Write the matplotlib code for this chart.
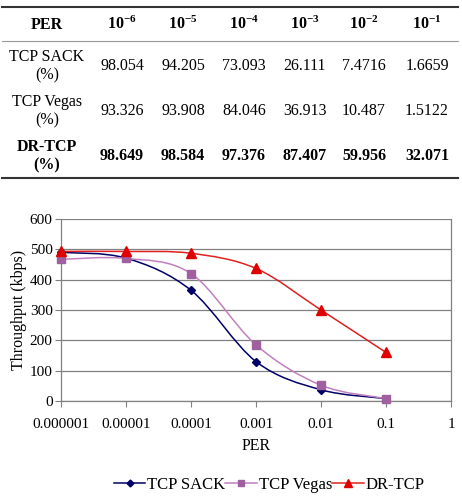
import numpy as np
import matplotlib
matplotlib.use("Agg")
import matplotlib.pyplot as plt
from matplotlib.path import Path
from matplotlib.patches import PathPatch
from matplotlib.lines import Line2D

plt.rcParams['font.family'] = ['Liberation Serif', 'DejaVu Serif']
plt.rcParams['mathtext.fontset'] = 'custom'
plt.rcParams['mathtext.rm'] = 'Liberation Serif'
plt.rcParams['mathtext.bf'] = 'Liberation Serif:bold'

# 数据
per = [1e-6, 1e-5, 1e-4, 1e-3, 1e-2, 1e-1]
per_labels = [r'$\mathbf{10^{-6}}$', r'$\mathbf{10^{-5}}$', r'$\mathbf{10^{-4}}$',
              r'$\mathbf{10^{-3}}$', r'$\mathbf{10^{-2}}$', r'$\mathbf{10^{-1}}$']
row_names = ['TCP SACK\n(%)', 'TCP Vegas\n(%)', 'DR-TCP\n(%)']
sack_pct = ['98.054', '94.205', '73.093', '26.111', '7.4716', '1.6659']
vegas_pct = ['93.326', '93.908', '84.046', '36.913', '10.487', '1.5122']
dr_pct = ['98.649', '98.584', '97.376', '87.407', '59.956', '32.071']

# 吞吐量 (kbps)
sack_thr = [490, 471, 365, 130, 37, 8]
vegas_thr = [467, 470, 420, 185, 52, 8]
dr_thr = [493, 493, 487, 437, 300, 160]

W, H = 462, 500
fig = plt.figure(figsize=(W / 100, H / 100), dpi=100)


def fx(x):
    return x / W


def fy(y):
    return 1 - y / H


# 表格
fs_tab = 11.5
col_x = [122, 183, 244, 305, 364, 427]
fig.add_artist(Line2D([fx(2), fx(458)], [fy(7), fy(7)], color='#333333', lw=1.5))
fig.add_artist(Line2D([fx(2), fx(458)], [fy(41), fy(41)], color='#999999', lw=0.8))
fig.add_artist(Line2D([fx(2), fx(458)], [fy(178), fy(178)], color='#333333', lw=1.5))

fig.text(fx(47), fy(25), 'PER', ha='center', va='center', fontsize=fs_tab, fontweight='bold')
for cx, lab in zip(col_x, per_labels):
    fig.text(fx(cx), fy(24), lab, ha='center', va='center', fontsize=fs_tab)

row_y = [66, 111, 156]
rows = [sack_pct, vegas_pct, dr_pct]
for i, (ry, name, vals) in enumerate(zip(row_y, row_names, rows)):
    w = 'bold' if i == 2 else 'normal'
    fig.text(fx(47), fy(ry), name, ha='center', va='center', fontsize=fs_tab,
             fontweight=w, linespacing=1.15)
    for cx, v in zip(col_x, vals):
        fig.text(fx(cx), fy(ry), v, ha='center', va='center', fontsize=fs_tab, fontweight=w)

# 曲线图
ax = fig.add_axes([fx(61), fy(401), fx(451) - fx(61), fy(219) - fy(401)])
ax.set_xscale('log')
ax.set_xlim(1e-6, 1)
ax.set_ylim(0, 600)
ax.set_yticks(np.arange(0, 601, 100))
ax.set_xticks([1e-6, 1e-5, 1e-4, 1e-3, 1e-2, 1e-1, 1])
ax.set_xticklabels(['0.000001', '0.00001', '0.0001', '0.001', '0.01', '0.1', '1'])
ax.minorticks_off()
ax.tick_params(axis='both', labelsize=11, length=4, width=0.8, color='#808080', pad=2)
ax.tick_params(axis='x', pad=8)
ax.yaxis.grid(True, color='#808080', lw=0.9)
ax.set_axisbelow(True)
for s in ['left', 'bottom', 'right']:
    ax.spines[s].set_color('#808080')
    ax.spines[s].set_linewidth(0.9)
ax.spines['top'].set_visible(False)
ax.set_xlabel('PER', fontsize=11.5, labelpad=5)
ax.set_ylabel('Throughput (kbps)', fontsize=11.5, labelpad=2)


def smooth_path(xs, ys):
    # Excel 风格的平滑线（log x 空间中的 Catmull-Rom 贝塞尔）
    lx = np.log10(xs)
    ys = np.asarray(ys, float)
    pts = np.column_stack([lx, ys])
    n = len(pts)
    verts = [pts[0]]
    codes = [Path.MOVETO]
    for i in range(n - 1):
        p0 = pts[i - 1] if i > 0 else pts[i]
        p1 = pts[i]
        p2 = pts[i + 1]
        p3 = pts[i + 2] if i + 2 < n else pts[i + 1]
        c1 = p1 + (p2 - p0) / 6
        c2 = p2 - (p3 - p1) / 6
        verts += [c1, c2, p2]
        codes += [Path.CURVE4] * 3
    verts = np.array(verts)
    verts[:, 0] = 10 ** verts[:, 0]
    return Path(verts, codes)


series = [
    ('TCP SACK', sack_thr, '#000066', '#000066', 'D', 4.5),
    ('TCP Vegas', vegas_thr, '#C080C0', '#A060A0', 's', 5.5),
    ('DR-TCP', dr_thr, '#E02020', '#E00000', '^', 6.5),
]
handles = []
for name, ys, lc, mc, mk, ms in series:
    ax.add_patch(PathPatch(smooth_path(per, ys), fc='none', ec=lc, lw=1.1, clip_on=False))
    ax.plot(per, ys, ls='none', marker=mk, ms=ms, color=mc, clip_on=False, zorder=3)
    handles.append(Line2D([], [], color=lc, lw=1.1, marker=mk, ms=ms - 1,
                          markerfacecolor=mc, markeredgecolor=mc))

fig.legend(handles, [s[0] for s in series], loc='center', bbox_to_anchor=(fx(269), fy(485)),
           ncol=3, frameon=False, fontsize=12, handlelength=1.9, handletextpad=0.1,
           columnspacing=0.0, borderaxespad=0)

fig.savefig('out.png', dpi=100)
